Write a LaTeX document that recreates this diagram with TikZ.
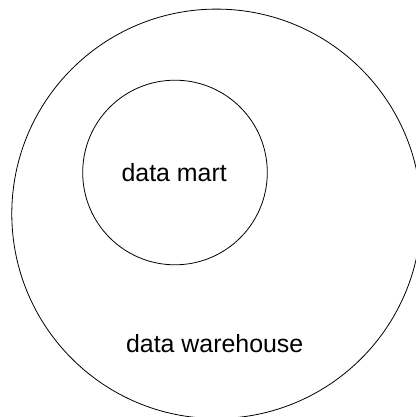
\documentclass[tikz,border=0pt]{standalone}
\usepackage{fontspec}
\setmainfont{Liberation Sans}
\begin{document}
\begin{tikzpicture}[x=1pt,y=-1pt,
  ring/.style={circle, draw=black, line width=0.8pt, inner sep=0pt},
  lbl/.style={font=\fontsize{24.9}{30}\selectfont, inner sep=0pt, anchor=base}]
\useasboundingbox (0,0) rectangle (415,417);
\node[ring, minimum size=409.4pt] (wh) at (216.5,213.8) {};
\node[ring, minimum size=184.6pt] (dm) at (175,172.5) {};
\node[lbl] (dmt) at (174.2,181.7) {data mart};
\node[lbl] (wht) at (214.7,352.7) {data warehouse};
\end{tikzpicture}
\end{document}
